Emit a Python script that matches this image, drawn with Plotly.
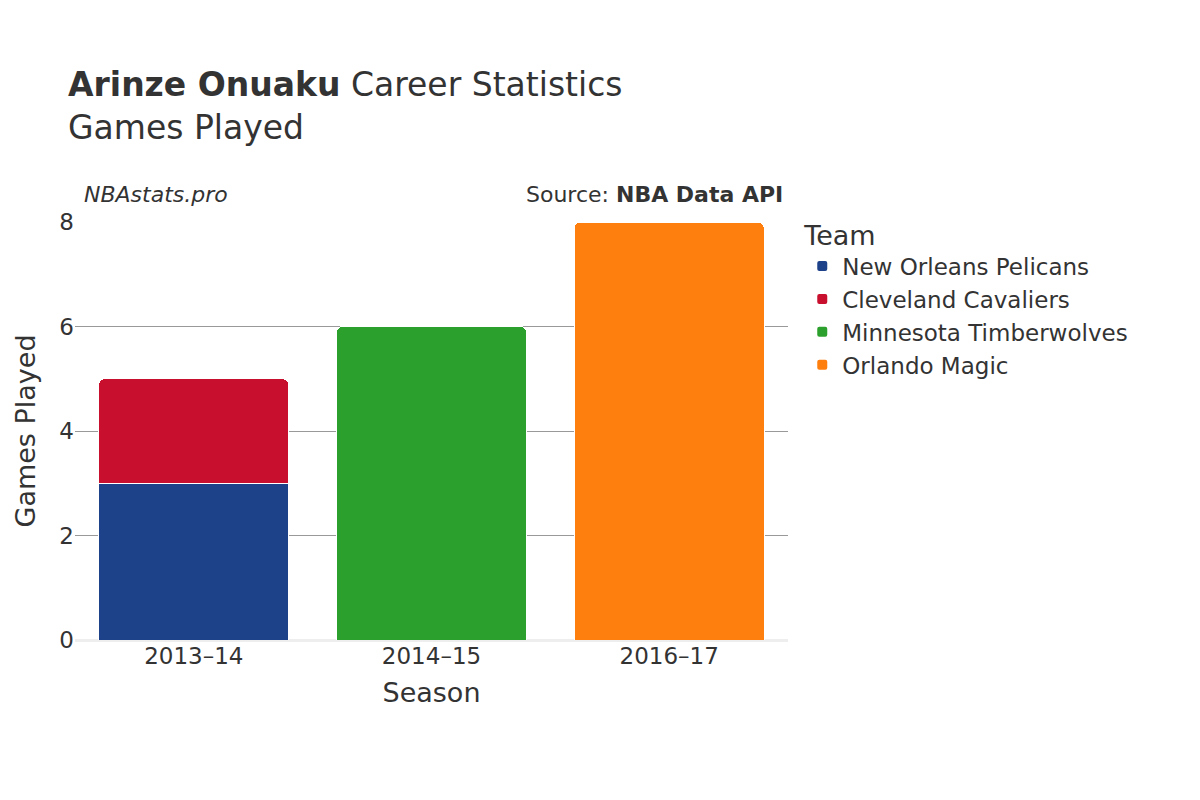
import plotly.graph_objects as go

seasons = ["2013–14", "2014–15", "2016–17"]
teams = ["New Orleans Pelicans", "Cleveland Cavaliers", "Minnesota Timberwolves", "Orlando Magic"]
team_seasons = [["2013–14"], ["2013–14"], ["2014–15"], ["2016–17"]]
team_games = [[3], [2], [6], [8]]
colors = ["#1D428A", "#C8102E", "#2CA02C", "#FF7F0E"]

fig = go.Figure()
for name, xs, ys, c in zip(teams, team_seasons, team_games, colors):
    fig.add_trace(go.Bar(x=xs, y=ys, name=name, marker_color=c,
                         marker_line=dict(color="white", width=1)))

fig.update_layout(
    width=1200, height=800, barmode="stack", bargap=0.2, barcornerradius=6,
    font=dict(family="DejaVu Sans", size=22, color="#333"),
    paper_bgcolor="white", plot_bgcolor="white",
    margin=dict(l=67, r=420, t=214, b=168),
    title=dict(text="<b>Arinze Onuaku</b> Career Statistics<br>Games Played",
               x=0.05, xanchor="left", y=0.89, yanchor="middle", font=dict(size=33)),
    legend=dict(title=dict(text="Team", font=dict(size=27)), x=1.02, y=1.03,
                yanchor="top", font=dict(size=23), traceorder="normal",
                itemsizing="constant", tracegroupgap=8),
    xaxis=dict(title=dict(text="Season", font=dict(size=27)), categoryorder="array",
               categoryarray=seasons, tickfont=dict(size=23)),
    yaxis=dict(title=dict(text="Games Played", font=dict(size=27)), range=[0, 8],
               dtick=2, gridcolor="#999", zeroline=True, zerolinecolor="#eee",
               zerolinewidth=3, tickfont=dict(size=23)),
)
fig.add_annotation(text="<i>NBAstats.pro</i>", xref="paper", yref="paper", x=0.01, y=1.03,
                   xanchor="left", yanchor="bottom", showarrow=False, font=dict(size=22))
fig.add_annotation(text="Source: <b>NBA Data API</b>", xref="paper", yref="paper", x=0.996,
                   y=1.03, xanchor="right", yanchor="bottom", showarrow=False, font=dict(size=22))

fig.write_html("out.html")
